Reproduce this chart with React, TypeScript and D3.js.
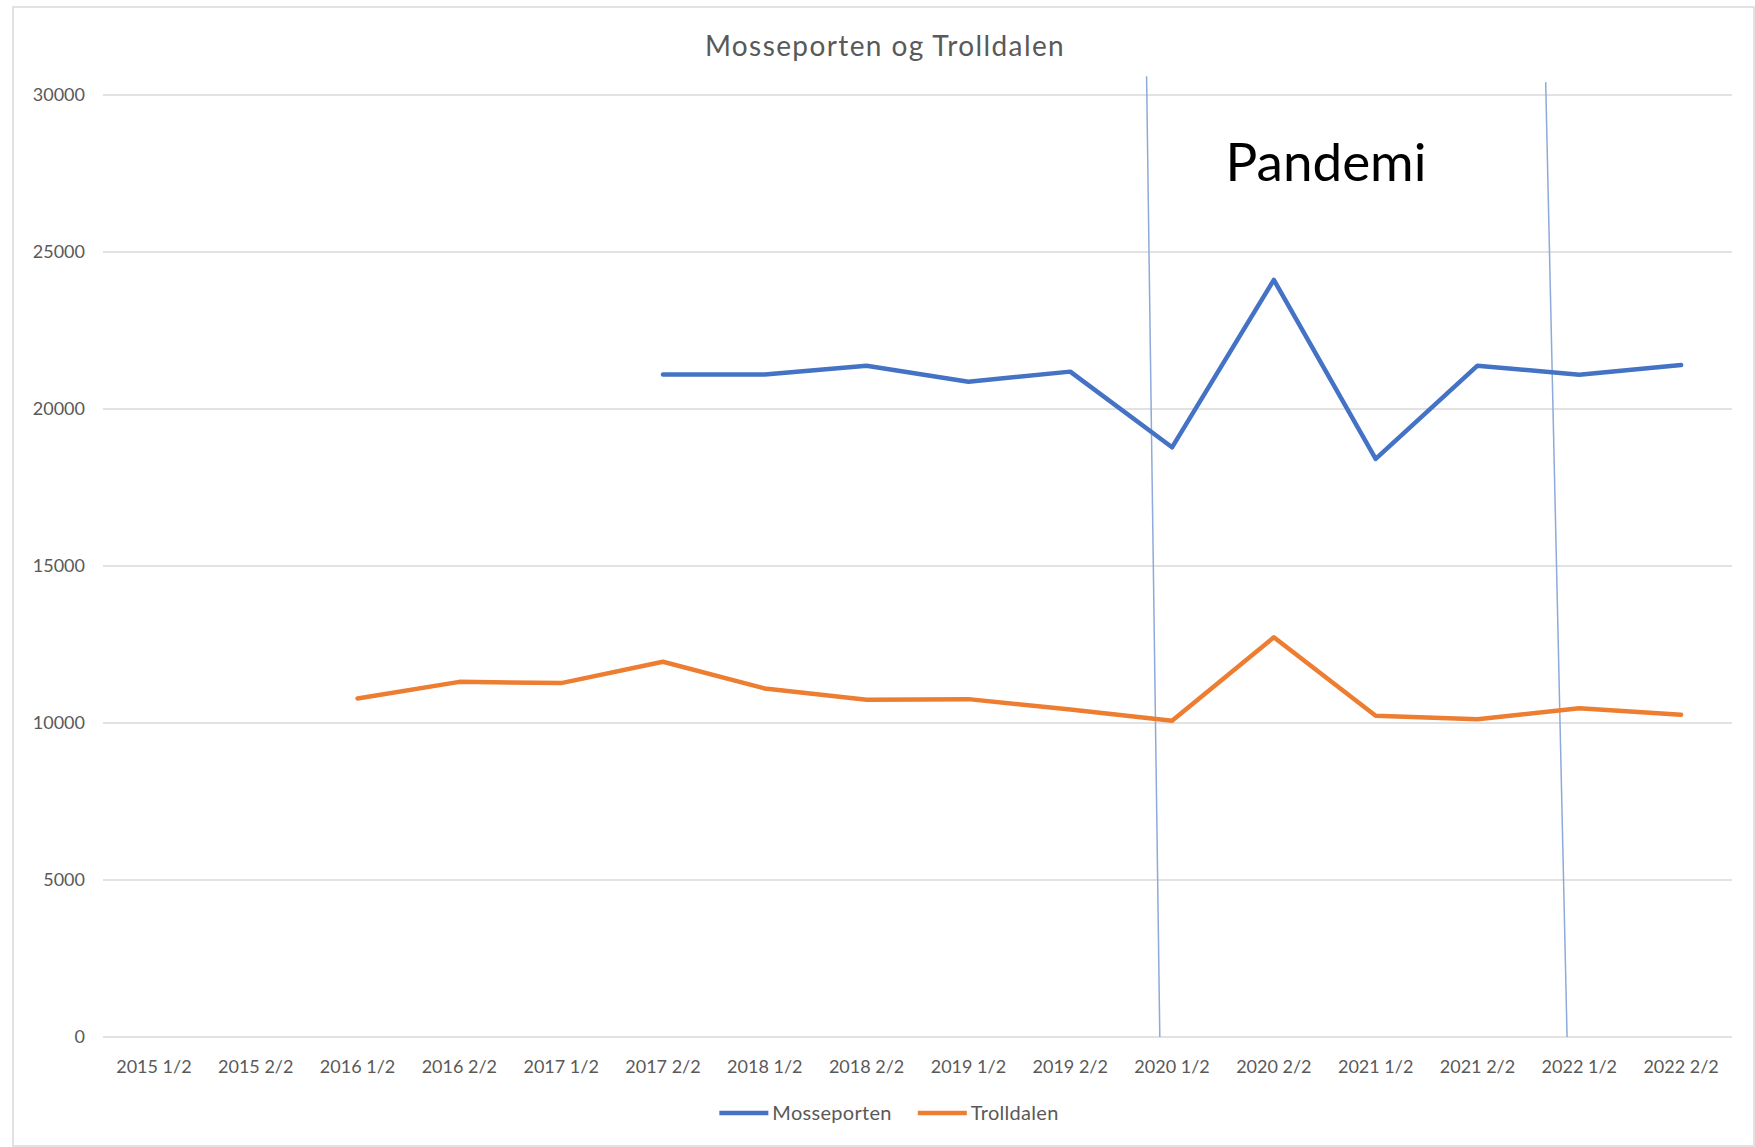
import React, { useRef, useEffect } from 'react';
import * as d3 from 'd3';

const categories = [
  '2015 1/2', '2015 2/2', '2016 1/2', '2016 2/2', '2017 1/2', '2017 2/2',
  '2018 1/2', '2018 2/2', '2019 1/2', '2019 2/2', '2020 1/2', '2020 2/2',
  '2021 1/2', '2021 2/2', '2022 1/2', '2022 2/2',
];

const mosseporten = [
  null, null, null, null, null, 21100,
  21100, 21380, 20870, 21190, 18780, 24110,
  18410, 21380, 21090, 21400,
];

const trolldalen = [
  null, null, 10780, 11310, 11270, 11950,
  11100, 10740, 10760, 10430, 10070, 12730,
  10230, 10120, 10470, 10260,
];

const yTicks = [0, 5000, 10000, 15000, 20000, 25000, 30000];

// hand drawn pandemic markers, in category-index units and y values
const markers = [
  { x1: 10.25, y1: 30600, x2: 10.38, y2: 0 },
  { x1: 14.17, y1: 30410, x2: 14.38, y2: 0 },
];

const series = [
  { name: 'Mosseporten', values: mosseporten, color: '#4472c4' },
  { name: 'Trolldalen', values: trolldalen, color: '#ed7d31' },
];

const App = () => {
  const svgRef = useRef(null);

  useEffect(() => {
    const width = 1755;
    const height = 1147;
    const margin = { top: 95, right: 23, bottom: 110, left: 103 };
    const font = 'Lato, Carlito, Calibri, sans-serif';

    const svg = d3.select(svgRef.current)
      .attr('width', width)
      .attr('height', height);
    svg.selectAll('*').remove();

    svg.append('rect')
      .attr('x', 13).attr('y', 7)
      .attr('width', width - 14).attr('height', height - 8)
      .attr('fill', '#fff')
      .attr('stroke', '#d9d9d9')
      .attr('stroke-width', 1.5);

    const xScale = d3.scaleBand()
      .domain(categories)
      .range([margin.left, width - margin.right]);

    const xIdx = d3.scaleLinear()
      .domain([0, categories.length])
      .range([margin.left, width - margin.right]);

    const yScale = d3.scaleLinear()
      .domain([0, 30000])
      .range([height - margin.bottom, margin.top]);

    // grid
    svg.append('g')
      .selectAll('line')
      .data(yTicks)
      .enter().append('line')
      .attr('x1', margin.left)
      .attr('x2', width - margin.right)
      .attr('y1', d => yScale(d))
      .attr('y2', d => yScale(d))
      .attr('stroke', '#d9d9d9')
      .attr('stroke-width', 1.5);

    // y labels
    svg.append('g')
      .selectAll('text')
      .data(yTicks)
      .enter().append('text')
      .attr('x', margin.left - 18)
      .attr('y', d => yScale(d))
      .attr('dy', '0.35em')
      .attr('text-anchor', 'end')
      .attr('font-family', font)
      .attr('font-size', 18)
      .attr('fill', '#595959')
      .text(d => d);

    // x labels
    svg.append('g')
      .selectAll('text')
      .data(categories)
      .enter().append('text')
      .attr('x', d => xScale(d) + xScale.bandwidth() / 2)
      .attr('y', height - margin.bottom + 36)
      .attr('text-anchor', 'middle')
      .attr('font-family', font)
      .attr('font-size', 18)
      .attr('fill', '#595959')
      .text(d => d);

    // pandemic markers
    svg.append('g')
      .selectAll('line')
      .data(markers)
      .enter().append('line')
      .attr('x1', d => xIdx(d.x1))
      .attr('y1', d => yScale(d.y1))
      .attr('x2', d => xIdx(d.x2))
      .attr('y2', d => yScale(d.y2))
      .attr('stroke', '#8eaadb')
      .attr('stroke-width', 1.5);

    const line = d3.line()
      .defined(d => d[1] != null)
      .x(d => xScale(d[0]) + xScale.bandwidth() / 2)
      .y(d => yScale(d[1]));

    series.forEach(s => {
      svg.append('path')
        .datum(categories.map((c, i) => [c, s.values[i]]))
        .attr('d', line)
        .attr('fill', 'none')
        .attr('stroke', s.color)
        .attr('stroke-width', 4.5)
        .attr('stroke-linejoin', 'round')
        .attr('stroke-linecap', 'round');
    });

    // title
    svg.append('text')
      .attr('x', 885)
      .attr('y', 56)
      .attr('text-anchor', 'middle')
      .attr('font-family', font)
      .attr('font-size', 28)
      .attr('letter-spacing', 1.4)
      .attr('fill', '#595959')
      .text('Mosseporten og Trolldalen');

    svg.append('text')
      .attr('x', 1326)
      .attr('y', 181)
      .attr('text-anchor', 'middle')
      .attr('font-family', font)
      .attr('font-size', 53)
      .attr('fill', '#000')
      .text('Pandemi');

    // legend
    const legend = svg.append('g');
    let cursor = 0;
    series.forEach(s => {
      const item = legend.append('g').attr('transform', `translate(${cursor},0)`);
      item.append('line')
        .attr('x1', 0).attr('x2', 49)
        .attr('y1', 0).attr('y2', 0)
        .attr('stroke', s.color)
        .attr('stroke-width', 4.5);
      const t = item.append('text')
        .attr('x', 53)
        .attr('dy', '0.35em')
        .attr('font-family', font)
        .attr('font-size', 20)
        .attr('letter-spacing', 0.3)
        .attr('fill', '#595959')
        .text(s.name);
      cursor += 53 + t.node().getComputedTextLength() + 26;
    });
    const legendWidth = cursor - 26;
    legend.attr('transform', `translate(${889 - legendWidth / 2},1113)`);
  }, []);

  return (
    <svg ref={svgRef} style={{ position: 'absolute', left: 0, top: 0, display: 'block' }}></svg>
  );
};

export default App;
